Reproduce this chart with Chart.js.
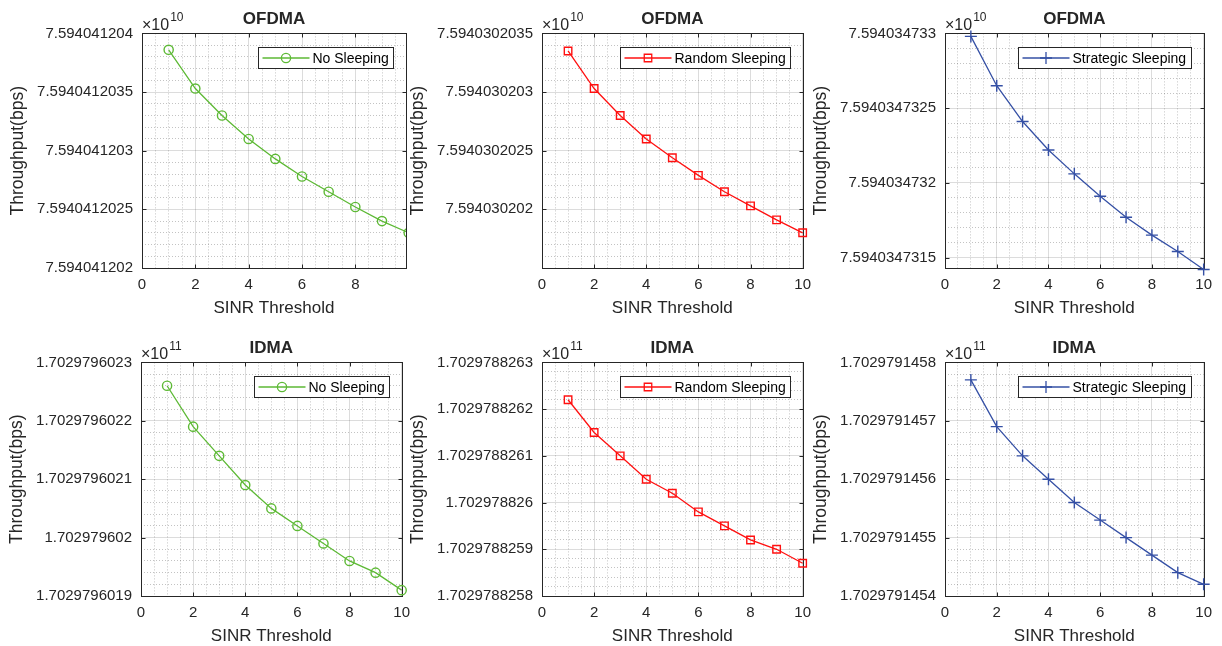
<!DOCTYPE html>
<html>
<head>
<meta charset="utf-8">
<title>Throughput vs SINR threshold</title>
<script src="https://cdn.jsdelivr.net/npm/chart.js@4.4.1/dist/chart.umd.min.js"></script>
<style>
    html, body { margin: 0; padding: 0; background: #fff; overflow: hidden; width: 1222px; height: 646px; }
    canvas { position: absolute; }
</style>
</head>
<body>
<canvas id="c1"></canvas>
<canvas id="c2"></canvas>
<canvas id="c3"></canvas>
<canvas id="c4"></canvas>
<canvas id="c5"></canvas>
<canvas id="c6"></canvas>
<script>
// SINR threshold, shared x values
var sinr = [1, 2, 3, 4, 5, 6, 7, 8, 9, 10];
var sinrTicks = [0, 2, 4, 6, 8, 10];

// OFDMA throughput (x 10^10 bps)
var ofdmaNoSleep = [7.59404120386, 7.59404120353, 7.5940412033, 7.5940412031, 7.59404120293,
    7.59404120278, 7.59404120265, 7.59404120252, 7.5940412024, 7.5940412023];
var ofdmaRandom = [7.59403020335, 7.59403020303, 7.5940302028, 7.5940302026, 7.59403020244,
    7.59403020229, 7.59403020215, 7.59403020203, 7.59403020191, 7.5940302018];
var ofdmaStrategic = [7.59403473298, 7.59403473265, 7.59403473241, 7.59403473222, 7.59403473206,
    7.59403473191, 7.59403473177, 7.59403473165, 7.59403473154, 7.59403473142];

// IDMA throughput (x 10^11 bps)
var idmaNoSleep = [1.70297960226, 1.70297960219, 1.70297960214, 1.70297960209, 1.70297960205,
    1.70297960202, 1.70297960199, 1.70297960196, 1.70297960194, 1.70297960191];
var idmaRandom = [1.70297882622, 1.70297882615, 1.7029788261, 1.70297882605, 1.70297882602,
    1.70297882598, 1.70297882595, 1.70297882592, 1.7029788259, 1.70297882587];
var idmaStrategic = [1.70297914577, 1.70297914569, 1.70297914564, 1.7029791456, 1.70297914556,
    1.70297914553, 1.7029791455, 1.70297914547, 1.70297914544, 1.70297914542];

// y tick labels for each plot
var ofdmaNoSleepTicks = [7.594041202, 7.5940412025, 7.594041203, 7.5940412035, 7.594041204];
var ofdmaRandomTicks = [7.594030202, 7.5940302025, 7.594030203, 7.5940302035];
var ofdmaStrategicTicks = [7.5940347315, 7.594034732, 7.5940347325, 7.594034733];
var idmaNoSleepTicks = [1.7029796019, 1.702979602, 1.7029796021, 1.7029796022, 1.7029796023];
var idmaRandomTicks = [1.7029788258, 1.7029788259, 1.702978826, 1.7029788261, 1.7029788262, 1.7029788263];
var idmaStrategicTicks = [1.7029791454, 1.7029791455, 1.7029791456, 1.7029791457, 1.7029791458];

var font = "'Liberation Sans', Arial, Helvetica, sans-serif";
var ink = '#262626';
var green = '#5DB935';
var red = '#FF1010';
var blue = '#3550A5';

var panels = [
    {id: 'c1', left: 8, top: 0, w: 410, h: 319, title: 'OFDMA', exp: '10', name: 'No Sleeping',
        color: green, marker: 'circle', radius: 4.6, values: ofdmaNoSleep, yTicks: ofdmaNoSleepTicks,
        yMin: 7.594041202, yMax: 7.594041204, xMax: 9.9, clip: 0},
    {id: 'c2', left: 408, top: 0, w: 411, h: 319, title: 'OFDMA', exp: '10', name: 'Random Sleeping',
        color: red, marker: 'rect', radius: 5.3, values: ofdmaRandom, yTicks: ofdmaRandomTicks,
        yMin: 7.5940302015, yMax: 7.5940302035, xMax: 10, clip: false},
    {id: 'c3', left: 811, top: 0, w: 409, h: 319, title: 'OFDMA', exp: '10', name: 'Strategic Sleeping',
        color: blue, marker: 'cross', radius: 6, values: ofdmaStrategic, yTicks: ofdmaStrategicTicks,
        yMin: 7.59403473143, yMax: 7.594034733, xMax: 10, clip: false},
    {id: 'c4', left: 7, top: 329, w: 411, h: 318, title: 'IDMA', exp: '11', name: 'No Sleeping',
        color: green, marker: 'circle', radius: 4.6, values: idmaNoSleep, yTicks: idmaNoSleepTicks,
        yMin: 1.7029796019, yMax: 1.7029796023, xMax: 10, clip: false},
    {id: 'c5', left: 408, top: 329, w: 411, h: 318, title: 'IDMA', exp: '11', name: 'Random Sleeping',
        color: red, marker: 'rect', radius: 5.3, values: idmaRandom, yTicks: idmaRandomTicks,
        yMin: 1.7029788258, yMax: 1.7029788263, xMax: 10, clip: false},
    {id: 'c6', left: 811, top: 329, w: 409, h: 318, title: 'IDMA', exp: '11', name: 'Strategic Sleeping',
        color: blue, marker: 'cross', radius: 6, values: idmaStrategic, yTicks: idmaStrategicTicks,
        yMin: 1.7029791454, yMax: 1.7029791458, xMax: 10, clip: false}
];

// major ticks get a label, the ones in between only carry the dotted minor grid
function gridTicks(majors, sub, lo, hi) {
    var step = (majors[1] - majors[0]) / sub;
    var k0 = Math.ceil((lo - majors[0]) / step - 1e-3);
    var k1 = Math.floor((hi - majors[0]) / step + 1e-3);
    var out = [];
    for (var k = k0; k <= k1; k++) {
        var major = k % sub === 0;
        var idx = k / sub;
        var has = major && idx >= 0 && idx < majors.length;
        out.push({
            value: has ? majors[idx] : majors[0] + k * step,
            isMajor: major,
            text: has ? String(majors[idx]) : ''
        });
    }
    return out;
}

function tickText(value, index, ticks) {
    return ticks[index].text;
}

function gridColor(ctx) {
    return ctx.tick && !ctx.tick.isMajor ? 'rgba(38,38,38,0.28)' : 'rgba(38,38,38,0.16)';
}

function gridDash(ctx) {
    return ctx.tick && !ctx.tick.isMajor ? [1, 2] : [];
}

// box round the axes, inward tick marks, exponent label and the legend
var axesBox = {
    id: 'axesBox',
    beforeDatasetsDraw: function (chart, args, opts) {
        var a = chart.chartArea, ctx = chart.ctx;
        var xs = chart.scales.x, ys = chart.scales.y;
        var l = Math.round(a.left) + 0.5, t = Math.round(a.top) + 0.5;
        var r = Math.round(a.right) + 0.5, b = Math.round(a.bottom) + 0.5;
        ctx.save();
        ctx.strokeStyle = ink;
        ctx.lineWidth = 1;
        ctx.strokeRect(l, t, r - l, b - t);
        ctx.beginPath();
        xs.ticks.forEach(function (tk) {
            if (!tk.isMajor) return;
            var px = Math.round(xs.getPixelForValue(tk.value)) + 0.5;
            ctx.moveTo(px, b); ctx.lineTo(px, b - 4);
            ctx.moveTo(px, t); ctx.lineTo(px, t + 4);
        });
        ys.ticks.forEach(function (tk) {
            if (!tk.isMajor) return;
            var py = Math.round(ys.getPixelForValue(tk.value)) + 0.5;
            ctx.moveTo(l, py); ctx.lineTo(l + 4, py);
            ctx.moveTo(r, py); ctx.lineTo(r - 4, py);
        });
        ctx.stroke();

        ctx.fillStyle = ink;
        ctx.textAlign = 'left';
        ctx.textBaseline = 'alphabetic';
        ctx.font = '16px ' + font;
        var base = '\u00d710';
        ctx.fillText(base, a.left, a.top - 3);
        var w = ctx.measureText(base).width;
        ctx.font = '12px ' + font;
        ctx.fillText(opts.exponent, a.left + w + 1, a.top - 12);
        ctx.restore();
    },
    afterDraw: function (chart) {
        var a = chart.chartArea, ctx = chart.ctx;
        var ds = chart.data.datasets[0];
        ctx.save();
        ctx.font = '14px ' + font;
        var tw = ctx.measureText(ds.label).width;
        var bw = Math.round(4 + 47 + 3 + tw + 5), bh = 21;
        var bx = Math.round(a.right - 13 - bw) + 0.5, by = Math.round(a.top + 14) + 0.5;
        ctx.fillStyle = '#fff';
        ctx.fillRect(bx, by, bw, bh);
        ctx.strokeStyle = ink;
        ctx.lineWidth = 1;
        ctx.strokeRect(bx, by, bw, bh);
        var ly = by + bh / 2;
        ctx.strokeStyle = ds.borderColor;
        ctx.lineWidth = ds.borderWidth;
        ctx.beginPath();
        ctx.moveTo(bx + 4, ly);
        ctx.lineTo(bx + 51, ly);
        ctx.stroke();
        ctx.fillStyle = 'rgba(0,0,0,0)';
        Chart.helpers.drawPoint(ctx, {
            pointStyle: ds.pointStyle, radius: ds.pointRadius,
            borderWidth: ds.pointBorderWidth, rotation: 0
        }, bx + 27.5, ly);
        ctx.fillStyle = '#000';
        ctx.textAlign = 'left';
        ctx.textBaseline = 'middle';
        ctx.fillText(ds.label, bx + 54, ly + 1);
        ctx.restore();
    }
};

function makeChart(p) {
    var canvas = document.getElementById(p.id);
    canvas.width = p.w;
    canvas.height = p.h;
    canvas.style.left = p.left + 'px';
    canvas.style.top = p.top + 'px';
    return new Chart(canvas, {
        type: 'line',
        data: {
            datasets: [{
                label: p.name,
                data: sinr.map(function (s, i) { return {x: s, y: p.values[i]}; }),
                borderColor: p.color,
                borderWidth: 1.3,
                tension: 0,
                pointStyle: p.marker,
                pointRadius: p.radius,
                pointBorderWidth: 1.4,
                pointBorderColor: p.color,
                pointBackgroundColor: 'rgba(0,0,0,0)',
                clip: p.clip
            }]
        },
        options: {
            responsive: false,
            animation: false,
            devicePixelRatio: 1,
            events: [],
            layout: {padding: {left: 0, right: 12, top: 0, bottom: 0}},
            plugins: {
                legend: {display: false},
                tooltip: {enabled: false},
                title: {
                    display: true,
                    text: p.title,
                    fullSize: false,
                    color: ink,
                    font: {family: font, size: 17, weight: 'bold', lineHeight: 1.2},
                    padding: {top: 9, bottom: 4}
                },
                axesBox: {exponent: p.exp}
            },
            scales: {
                x: {
                    type: 'linear',
                    min: 0,
                    max: p.xMax,
                    afterBuildTicks: function (s) { s.ticks = gridTicks(sinrTicks, 4, 0, p.xMax); },
                    afterFit: function (s) { s.height = 51; },
                    ticks: {autoSkip: false, maxRotation: 0, padding: 8, color: ink,
                        font: {family: font, size: 15}, callback: tickText},
                    grid: {drawTicks: false, color: gridColor, lineWidth: 1},
                    border: {display: false, dash: gridDash},
                    title: {display: true, text: 'SINR Threshold', color: ink,
                        font: {family: font, size: 17, lineHeight: 1.2}, padding: {top: 0, bottom: 0}}
                },
                y: {
                    type: 'linear',
                    min: p.yMin,
                    max: p.yMax,
                    afterBuildTicks: function (s) { s.ticks = gridTicks(p.yTicks, 5, p.yMin, p.yMax); },
                    afterFit: function (s) { s.width = 134; },
                    ticks: {autoSkip: false, padding: 9, color: ink,
                        font: {family: font, size: 15}, callback: tickText},
                    grid: {drawTicks: false, color: gridColor, lineWidth: 1},
                    border: {display: false, dash: gridDash},
                    title: {display: true, text: 'Throughput(bps)', color: ink,
                        font: {family: font, size: 17.5, lineHeight: 1.2}, padding: {top: 0, bottom: 0}}
                }
            }
        },
        plugins: [axesBox]
    });
}

panels.forEach(makeChart);
</script>
</body>
</html>
